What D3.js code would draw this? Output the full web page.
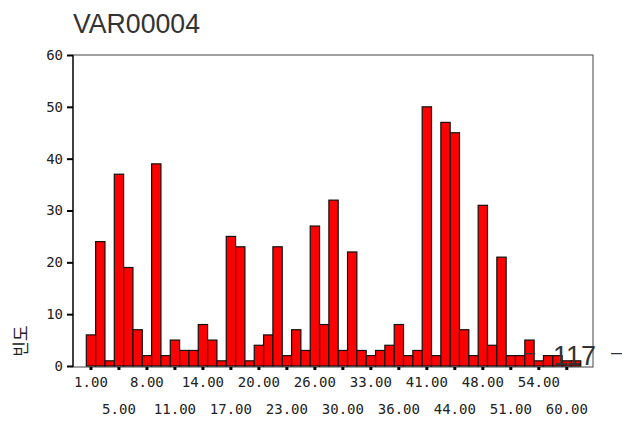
<!DOCTYPE html>
<html>
<head>
<meta charset="utf-8">
<script src="https://cdn.jsdelivr.net/npm/d3@7"></script>
<style>
  html, body { margin: 0; padding: 0; background: #fff; }
  svg { display: block; }
</style>
</head>
<body>
<div id="chart"></div>
<script>
// ---- data ----
const title = "VAR00004";
const yLabel = "빈도";
const categories = [1,2,3,5,6,7,8,9,10,11,12,13,14,15,16,17,18,19,20,21,22,23,24,25,26,27,28,30,31,32,33,34,35,36,38,39,41,42,43,44,45,46,48,49,50,51,52,53,54,56,58,60,62];
const counts = [6,24,1,37,19,7,2,39,2,5,3,3,8,5,1,25,23,1,4,6,23,2,7,3,27,8,32,3,22,3,2,3,4,8,2,3,50,2,47,45,7,2,31,4,21,2,2,5,1,2,2,1,1];
const xTickLabels = ["1.00","5.00","8.00","11.00","14.00","17.00","20.00","23.00","26.00","30.00","33.00","36.00","41.00","44.00","48.00","51.00","54.00","60.00"];
const yTicks = [0,10,20,30,40,50,60];
const strayText = "117";

// ---- layout ----
const W = 622, H = 421;
const frame = {left: 73, top: 55, right: 593, bottom: 366};
const barStart = 86.3, barStep = 9.33;

const svg = d3.select("#chart").append("svg").attr("width", W).attr("height", H);

const x = d3.scaleBand()
  .domain(categories)
  .range([barStart, barStart + barStep * categories.length])
  .padding(0);
const y = d3.scaleLinear().domain([0, 60]).range([frame.bottom, frame.top]);

// title
svg.append("text")
  .attr("x", 73).attr("y", 33)
  .attr("font-family", "Liberation Sans, Arial, sans-serif")
  .attr("font-size", 27)
  .attr("textLength", 127)
  .attr("lengthAdjust", "spacingAndGlyphs")
  .attr("fill", "#333")
  .text(title);

// frame
svg.append("rect")
  .attr("x", frame.left).attr("y", frame.top)
  .attr("width", frame.right - frame.left)
  .attr("height", frame.bottom - frame.top + 1)
  .attr("fill", "none").attr("stroke", "#444").attr("stroke-width", 1);

// bars
svg.append("g").selectAll("rect")
  .data(categories.map((c, i) => ({c, v: counts[i]})))
  .join("rect")
  .attr("x", d => x(d.c))
  .attr("y", d => y(d.v))
  .attr("width", x.bandwidth())
  .attr("height", d => y(0) - y(d.v))
  .attr("fill", "#ff0000")
  .attr("stroke", "#111")
  .attr("stroke-width", 1.2);

// left axis line
svg.append("line")
  .attr("x1", frame.left).attr("x2", frame.left)
  .attr("y1", frame.top).attr("y2", frame.bottom + 1)
  .attr("stroke", "#222").attr("stroke-width", 1.5);

// y axis ticks & labels
const yAxis = svg.append("g")
  .attr("transform", `translate(${frame.left},0)`)
  .call(d3.axisLeft(y).tickValues(yTicks).tickSize(6).tickPadding(4).tickFormat(d3.format("d")));
yAxis.select(".domain").remove();
yAxis.selectAll(".tick line").attr("stroke", "#000").attr("stroke-width", 2);
yAxis.selectAll(".tick text")
  .attr("font-family", "DejaVu Sans Mono, monospace")
  .attr("font-size", 14)
  .attr("fill", "#222");

// x axis: tick every 3rd category, alternating rows
const tickCats = categories.filter((c, i) => i % 3 === 0);
const xAxis = svg.append("g")
  .attr("transform", `translate(0,${frame.bottom + 1})`)
  .call(d3.axisBottom(x).tickValues(tickCats).tickSize(3).tickFormat((d, i) => xTickLabels[i]));
xAxis.select(".domain").remove();
xAxis.selectAll(".tick line").attr("stroke", "#000").attr("stroke-width", 3);
xAxis.selectAll(".tick text")
  .attr("font-family", "DejaVu Sans Mono, monospace")
  .attr("font-size", 14)
  .attr("fill", "#222")
  .attr("dy", null)
  .attr("y", (d, i) => i % 2 === 0 ? 20 : 47);

// y label (rotated)
svg.append("text")
  .attr("transform", "translate(27,341) rotate(-90)")
  .attr("text-anchor", "middle")
  .attr("font-family", "Noto Sans CJK KR, sans-serif")
  .attr("font-size", 17)
  .attr("fill", "#222")
  .text(yLabel);

// stray text near bottom right
svg.append("text")
  .attr("x", 524).attr("y", 359)
  .attr("font-family", "Liberation Sans, Arial, sans-serif")
  .attr("font-size", 20).attr("fill", "#333").text("–");
svg.append("text")
  .attr("x", 553).attr("y", 365)
  .attr("font-family", "Liberation Sans, Arial, sans-serif")
  .attr("font-size", 27).attr("fill", "#333")
  .attr("textLength", 43).attr("lengthAdjust", "spacingAndGlyphs")
  .text(strayText);
svg.append("text")
  .attr("x", 611).attr("y", 359)
  .attr("font-family", "Liberation Sans, Arial, sans-serif")
  .attr("font-size", 20).attr("fill", "#333").text("–");
</script>
</body>
</html>
